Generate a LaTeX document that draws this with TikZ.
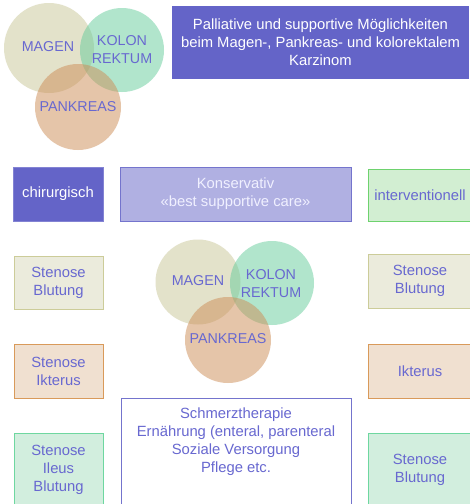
\documentclass[tikz,border=0pt]{standalone}
\usepackage{fontspec}
\setmainfont{Liberation Sans}
\begin{document}
\begin{tikzpicture}[x=1pt,y=-1pt,
  font=\fontsize{14.8}{18}\selectfont,
  every node/.style={align=center, inner sep=0pt},
  lbl/.style={text=txtblue, font=\fontsize{14.3}{18}\selectfont},
  card/.style={draw, line width=0.9pt, rectangle},
  olivebox/.style={card, fill=olivefill, draw=oliveline, text=txtblue},
  orangebox/.style={card, fill=orangefill, draw=orangeline, text=txtblue},
  greenbox/.style={card, fill=greenfill, draw=greenline, text=txtblue},
  mintbox/.style={card, fill=mintfill, draw=mintline, text=txtblue}]
\definecolor{slate}{RGB}{100,100,200}
\definecolor{txtblue}{RGB}{104,104,208}
\definecolor{lavender}{RGB}{176,176,226}
\definecolor{olivefill}{RGB}{235,235,220}
\definecolor{oliveline}{RGB}{204,204,153}
\definecolor{orangefill}{RGB}{240,224,208}
\definecolor{orangeline}{RGB}{217,154,90}
\definecolor{greenfill}{RGB}{210,238,210}
\definecolor{greenline}{RGB}{110,210,110}
\definecolor{mintfill}{RGB}{210,238,222}
\definecolor{mintline}{RGB}{110,215,160}
\definecolor{magenc}{RGB}{200,198,150}
\definecolor{kolonc}{RGB}{100,204,155}
\definecolor{pankc}{RGB}{205,140,85}
\clip (0,0) rectangle (470,504);
\fill[white] (0,0) rectangle (470,504);

% three overlapping organ circles, top left
\fill[magenc, opacity=0.5] (49,48) circle[radius=45];
\fill[kolonc, opacity=0.5] (122,50) circle[radius=42];
\fill[pankc, opacity=0.5] (78,107) circle[radius=43];
\node[lbl] (m1) at (48,47) {MAGEN};
\node[lbl] (k1) at (122,50) {KOLON\\REKTUM};
\node[lbl] (p1) at (78,107) {PANKREAS};

% heading
\node[fill=slate, text=white, minimum width=297, minimum height=73] (title) at (320.5,42.5)
  {Palliative und supportive Möglichkeiten\\beim Magen-, Pankreas- und kolorektalem\\Karzinom};

% three treatment categories
\node[fill=slate, draw=slate!80!white, line width=0.9pt, text=white, minimum width=90, minimum height=54] (chir) at (58,194) {chirurgisch};
\node[fill=lavender, draw=slate!90!white, line width=0.9pt, text=white!94!blue, minimum width=231, minimum height=54] (kons) at (235.5,194) {Konservativ\\«best supportive care»};
\node[greenbox, minimum width=104, minimum height=52] (interv) at (420,195) {interventionell};

% surgical options
\node[olivebox, minimum width=89, minimum height=53] (s1) at (58.5,282.5) {Stenose\\Blutung};
\node[orangebox, minimum width=89, minimum height=54] (s2) at (58.5,371) {Stenose\\Ikterus};
\node[mintbox, minimum width=89, minimum height=74] (s3) at (58.5,470) {Stenose\\Ileus\\Blutung};

% interventional options
\node[olivebox, minimum width=104, minimum height=54] (i1) at (420,281) {Stenose\\Blutung};
\node[orangebox, minimum width=104, minimum height=54] (i2) at (420,371) {Ikterus};
\node[mintbox, minimum width=104, minimum height=74] (i3) at (420,470) {Stenose\\Blutung};

% central organ circles
\fill[magenc, opacity=0.5] (198,282) circle[radius=42.5];
\fill[kolonc, opacity=0.5] (272,283) circle[radius=42];
\fill[pankc, opacity=0.5] (228,340) circle[radius=43];
\node[lbl] (m2) at (198,281) {MAGEN};
\node[lbl] (k2) at (271,284) {KOLON\\REKTUM};
\node[lbl] (p2) at (228,339) {PANKREAS};

% conservative care box
\node[draw=slate!90!white, line width=0.9pt, fill=white, minimum width=230, minimum height=120, anchor=north] (care) at (236,398) {};
\node[text=txtblue] (caretxt) at (236,442) {Schmerztherapie\\Ernährung (enteral, parenteral\\Soziale Versorgung\\Pflege etc.};
\end{tikzpicture}
\end{document}
